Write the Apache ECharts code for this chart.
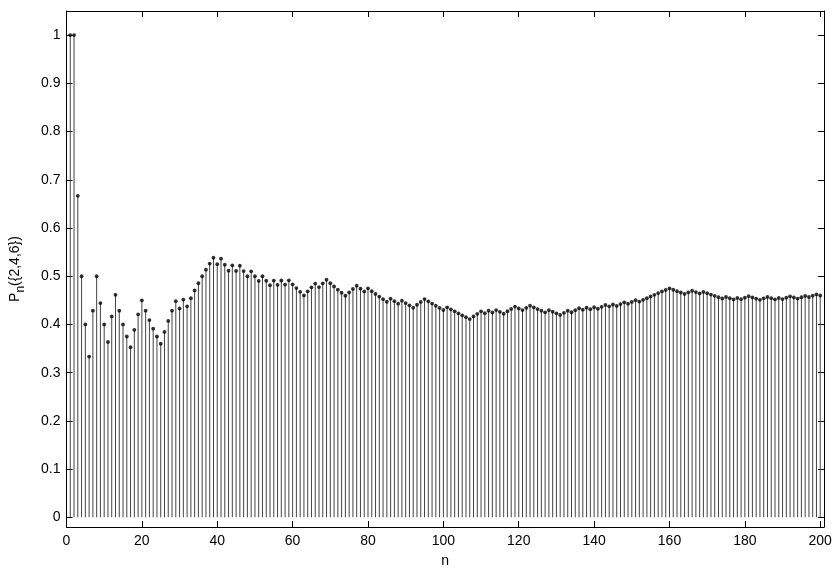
<!DOCTYPE html>
<html>
<head>
<meta charset="utf-8">
<script src="https://cdn.jsdelivr.net/npm/echarts@6/dist/echarts.min.js"></script>
<style>html,body{margin:0;padding:0;background:#fff}#c{width:837px;height:573px}</style>
</head>
<body>
<div id="c"></div>
<script>
// n = 1..200
const nValues = Array.from({length: 200}, (_, i) => i + 1);
// P_n({2,4,6})
const pValues = [
1,1,0.6667,0.5,0.4,0.3333,0.4286,0.5,0.4444,0.4,
0.3636,0.4167,0.4615,0.4286,0.4,0.375,0.3529,0.3889,0.4211,0.45,
0.4286,0.4091,0.3913,0.375,0.36,0.3846,0.4074,0.4286,0.4483,0.4333,
0.4516,0.4375,0.4545,0.4706,0.4857,0.5,0.5135,0.5263,0.5385,0.525,
0.5366,0.5238,0.5116,0.5227,0.5111,0.5217,0.5106,0.5,0.5102,0.5,
0.4902,0.5,0.4906,0.4815,0.4909,0.4821,0.4912,0.4828,0.4915,0.4833,
0.4754,0.4677,0.4603,0.4688,0.4769,0.4848,0.4776,0.4853,0.4928,0.4857,
0.4789,0.4722,0.4658,0.4595,0.4667,0.4737,0.4805,0.4744,0.4684,0.475,
0.4691,0.4634,0.4578,0.4524,0.4471,0.4535,0.4483,0.4432,0.4494,0.4444,
0.4396,0.4348,0.4409,0.4468,0.4526,0.4479,0.4433,0.4388,0.4343,0.43,
0.4356,0.4314,0.4272,0.4231,0.419,0.4151,0.4112,0.4167,0.422,0.4273,
0.4234,0.4286,0.4248,0.4298,0.4261,0.4224,0.4274,0.4322,0.437,0.4333,
0.4298,0.4344,0.439,0.4355,0.432,0.4286,0.4252,0.4297,0.4264,0.4231,
0.4198,0.4242,0.4286,0.4254,0.4296,0.4338,0.4307,0.4348,0.4317,0.4357,
0.4326,0.4366,0.4406,0.4375,0.4414,0.4384,0.4422,0.4459,0.443,0.4467,
0.4503,0.4474,0.451,0.4545,0.4581,0.4615,0.465,0.4684,0.4717,0.475,
0.472,0.4691,0.4663,0.4634,0.4667,0.4699,0.4671,0.4643,0.4675,0.4647,
0.462,0.4593,0.4566,0.454,0.4571,0.4545,0.452,0.4551,0.4525,0.4556,
0.4586,0.456,0.4536,0.4511,0.4541,0.457,0.4545,0.4521,0.455,0.4526,
0.4555,0.4583,0.456,0.4536,0.4564,0.4592,0.4569,0.4596,0.4623,0.46
];
const xTicks = [0,20,40,60,80,100,120,140,160,180,200];
const yTicks = [0,0.1,0.2,0.3,0.4,0.5,0.6,0.7,0.8,0.9,1];

const pts = nValues.map((n, i) => [n, pValues[i]]);
const font = 'Liberation Sans, Arial, Helvetica, sans-serif';
const lineStyle = {color: '#000', width: 1};

function xAx(pos, showLabel) {
  return {
    type: 'value', position: pos, min: 0, max: 201,
    splitLine: {show: false},
    axisLine: {show: true, onZero: false, lineStyle},
    axisTick: {show: true, inside: true, length: 6, lineStyle, customValues: xTicks},
    axisLabel: {show: showLabel, customValues: xTicks, margin: 7, color: '#000', fontSize: 14, fontFamily: font},
    name: showLabel ? 'n' : '', nameLocation: 'middle', nameGap: 27,
    nameTextStyle: {color: '#000', fontSize: 14, fontFamily: font}
  };
}
function yAx(pos, showLabel) {
  return {
    type: 'value', position: pos, min: -0.02, max: 1.05,
    splitLine: {show: false},
    axisLine: {show: true, onZero: false, lineStyle},
    axisTick: {show: true, inside: true, length: 6, lineStyle, customValues: yTicks},
    axisLabel: {show: showLabel, customValues: yTicks, margin: 6, color: '#000', fontSize: 14, fontFamily: font,
      formatter: v => String(Math.round(v * 10) / 10)},
    name: showLabel ? '{a|P}{s|n}({2,4,6})' : '', nameLocation: 'middle', nameRotate: 90, nameGap: 40,
    nameTextStyle: {color: '#000', fontSize: 14, fontFamily: font,
      rich: {a: {fontSize: 14, fontFamily: font, color: '#000'},
             s: {fontSize: 12, fontFamily: font, color: '#000', padding: [11, 0, 0, 0]}}}
  };
}

const chart = echarts.init(document.getElementById('c'), null, {renderer: 'canvas'});
chart.setOption({
  animation: false,
  backgroundColor: '#fff',
  grid: {left: 63, right: 13, top: 11, bottom: 40, containLabel: false},
  xAxis: [xAx('bottom', true), xAx('top', false)],
  yAxis: [yAx('left', true), yAx('right', false)],
  series: [
    {type: 'bar', data: pts, barWidth: 1, itemStyle: {color: '#444'}, silent: true},
    {type: 'scatter', data: pts, symbol: 'circle', symbolSize: 3.8, itemStyle: {color: '#000'}, silent: true}
  ]
});
</script>
</body>
</html>
